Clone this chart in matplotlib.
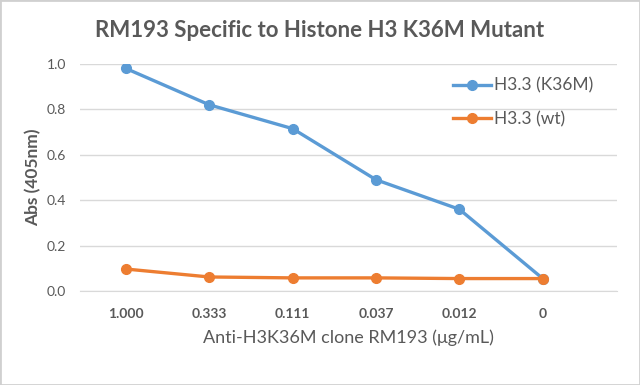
import matplotlib
matplotlib.use("Agg")
import matplotlib.pyplot as plt
from matplotlib.patches import Rectangle

plt.rcParams['font.family'] = ['Lato', 'DejaVu Sans']

categories = ["1.000", "0.333", "0.111", "0.037", "0.012", "0"]
k36m = [0.98, 0.82, 0.715, 0.49, 0.36, 0.055]
wt = [0.097, 0.062, 0.058, 0.058, 0.055, 0.055]
yticks = [0.0, 0.2, 0.4, 0.6, 0.8, 1.0]

gray = "#595959"
fig = plt.figure(figsize=(6.4, 3.85), dpi=100)
ax = fig.add_axes([0.125, 0.244, 0.839, 0.590])
x = list(range(len(categories)))
ax.plot(x, k36m, color="#5B9BD5", lw=2.4, marker="o", ms=7, label="H3.3 (K36M)", zorder=3)
ax.plot(x, wt, color="#ED7D31", lw=2.4, marker="o", ms=7, label="H3.3 (wt)", zorder=3)

ax.set_xlim(-0.55, 5.89)
ax.set_ylim(0, 1.0)
ax.set_yticks(yticks)
ax.set_yticklabels([f"{v:.1f}" for v in yticks])
ax.set_xticks(x)
ax.set_xticklabels(categories, fontweight="bold")
ax.tick_params(axis="both", length=0, colors=gray, labelsize=10)
ax.tick_params(axis="x", pad=12)
ax.tick_params(axis="y", pad=10)
ax.grid(axis="y", color="#D9D9D9", lw=1)
ax.set_axisbelow(True)
for s in ["top", "right", "left"]:
    ax.spines[s].set_visible(False)
ax.spines["bottom"].set_color("#D9D9D9")

ax.set_xlabel("Anti-H3K36M clone RM193 (\u03bcg/mL)", fontsize=13, color=gray, labelpad=7)
ax.set_ylabel("Abs (405nm)", fontsize=12.5, color=gray, fontweight="bold", labelpad=4)
fig.text(0.5, 0.92, "RM193 Specific to Histone H3 K36M Mutant", ha="center", va="center",
         fontsize=16, fontweight="bold", color=gray)

leg = ax.legend(loc="upper right", bbox_to_anchor=(0.968, 0.97), frameon=False, fontsize=12.5,
                handlelength=2.2, handletextpad=0.15, labelspacing=1.0, borderaxespad=0)
for t in leg.get_texts():
    t.set_color(gray)

fig.patches.append(Rectangle((0, 0), 1, 1, transform=fig.transFigure, fill=False,
                             edgecolor="#D0D0D0", lw=2))
fig.savefig("out.png", dpi=100)
